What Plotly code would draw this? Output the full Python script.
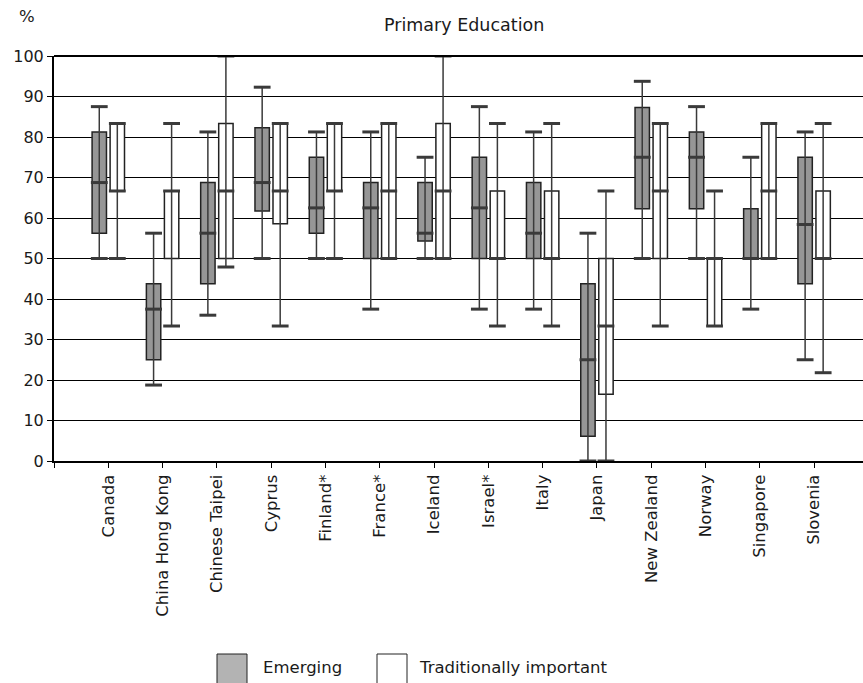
import numpy as np
import plotly.graph_objects as go

countries = ["Canada", "China Hong Kong", "Chinese Taipei", "Cyprus", "Finland*", "France*",
             "Iceland", "Israel*", "Italy", "Japan", "New Zealand", "Norway", "Singapore", "Slovenia"]

em_min = [50, 18.75, 36, 50, 50, 37.5, 50, 37.5, 37.5, 0, 50, 50, 37.5, 25]
em_q1 = [56.25, 25, 43.75, 61.7, 56.25, 50, 54.3, 50, 50, 6.1, 62.3, 62.3, 50, 43.75]
em_med = [68.75, 37.5, 56.25, 68.75, 62.5, 62.5, 56.25, 62.5, 56.25, 25, 75, 75, 50, 58.4]
em_q3 = [81.25, 43.75, 68.75, 82.3, 75, 68.75, 68.75, 75, 68.75, 43.75, 87.3, 81.25, 62.3, 75]
em_max = [87.5, 56.25, 81.25, 92.3, 81.25, 81.25, 75, 87.5, 81.25, 56.25, 93.75, 87.5, 75, 81.25]

tr_min = [50, 33.33, 47.9, 33.33, 50, 50, 50, 33.33, 33.33, 0, 33.33, 33.33, 50, 21.8]
tr_q1 = [66.67, 50, 50, 58.6, 66.67, 50, 50, 50, 50, 16.5, 50, 33.33, 50, 50]
tr_med = [66.67, 66.67, 66.67, 66.67, 66.67, 66.67, 66.67, 50, 50, 33.33, 66.67, 50, 66.67, 50]
tr_q3 = [83.33, 66.67, 83.33, 83.33, 83.33, 83.33, 83.33, 66.67, 66.67, 50, 83.33, 50, 83.33, 66.67]
tr_max = [83.33, 83.33, 100, 83.33, 83.33, 83.33, 100, 83.33, 83.33, 66.67, 83.33, 66.67, 83.33, 83.33]

y_ticks = [0, 10, 20, 30, 40, 50, 60, 70, 80, 90, 100]

FONT = "DejaVu Sans"
TXT = "#1a1a1a"
MARK = "#3a3a3a"
idx = np.arange(len(countries))
off = 0.166
bw = 0.265

fig = go.Figure()


def add_series(xpos, mn, q1, med, q3, mx, fill):
    mn, q1, med, q3, mx = map(np.array, (mn, q1, med, q3, mx))
    # box (Q1..Q3)
    fig.add_trace(go.Bar(x=xpos, y=q3 - q1, base=q1, width=bw,
                         marker=dict(color=fill, line=dict(color="#222222", width=1.5)),
                         showlegend=False, hoverinfo="skip"))
    # whisker line through the box, min..max
    fig.add_trace(go.Scatter(x=xpos, y=med, mode="markers",
                             marker=dict(symbol="line-ew", size=12,
                                         line=dict(color=MARK, width=3)),
                             error_y=dict(type="data", symmetric=False,
                                          array=mx - med, arrayminus=med - mn,
                                          color=MARK, thickness=1.5, width=0),
                             showlegend=False, hoverinfo="skip"))
    # caps at min and max
    fig.add_trace(go.Scatter(x=np.concatenate([xpos, xpos]), y=np.concatenate([mn, mx]),
                             mode="markers",
                             marker=dict(symbol="line-ew", size=12,
                                         line=dict(color=MARK, width=3)),
                             showlegend=False, hoverinfo="skip"))


add_series(idx - off, em_min, em_q1, em_med, em_q3, em_max, "#969696")
add_series(idx + off, tr_min, tr_q1, tr_med, tr_q3, tr_max, "#ffffff")

# legend drawn manually (large swatches)
fig.add_shape(type="rect", xref="paper", yref="paper",
              x0=(217 - 54) / 809, x1=(247 - 54) / 809,
              y0=-(654 - 461) / 405, y1=-(690 - 461) / 405,
              fillcolor="#b3b3b3", line=dict(color="#222222", width=1))
fig.add_shape(type="rect", xref="paper", yref="paper",
              x0=(377 - 54) / 809, x1=(407 - 54) / 809,
              y0=-(654 - 461) / 405, y1=-(690 - 461) / 405,
              fillcolor="#ffffff", line=dict(color="#222222", width=1))
fig.add_annotation(text="Emerging", xref="paper", yref="paper",
                   x=(261 - 54) / 809, y=-(667 - 461) / 405, xanchor="left", yanchor="middle",
                   showarrow=False, font=dict(family=FONT, size=16.5, color=TXT))
fig.add_annotation(text="Traditionally important", xref="paper", yref="paper",
                   x=(417 - 54) / 809, y=-(667 - 461) / 405, xanchor="left", yanchor="middle",
                   showarrow=False, font=dict(family=FONT, size=16.5, color=TXT))

fig.add_annotation(text="%", xref="paper", yref="paper", x=(27 - 54) / 809, y=1 + (56 - 17) / 405,
                   xanchor="center", yanchor="middle", showarrow=False,
                   font=dict(family=FONT, size=16.5, color=TXT))
fig.add_annotation(text="Primary Education", xref="paper", yref="paper",
                   x=(464 - 54) / 809, y=1 + (56 - 25) / 405,
                   xanchor="center", yanchor="middle", showarrow=False,
                   font=dict(family=FONT, size=17.5, color=TXT))

fig.update_layout(
    width=863, height=683,
    margin=dict(l=54, r=0, t=56, b=222),
    plot_bgcolor="white", paper_bgcolor="white",
    barmode="overlay",
    font=dict(family=FONT, size=16, color=TXT),
    showlegend=False,
)
fig.update_xaxes(range=[-1, 13.9], tickmode="array",
                 tickvals=list(range(-1, len(countries))), ticktext=[""] + countries,
                 tickangle=-90, ticks="outside", ticklen=5, tickcolor="black",
                 showline=True, linecolor="black", linewidth=2, showgrid=False,
                 zeroline=False, tickfont=dict(family=FONT, size=16.5, color=TXT))
fig.update_yaxes(range=[0, 100], tickvals=y_ticks, ticks="outside", ticklen=5,
                 tickcolor="black", showline=True, linecolor="black", linewidth=2,
                 showgrid=True, gridcolor="black", gridwidth=1, zeroline=False,
                 mirror=False, tickfont=dict(family=FONT, size=16, color=TXT))
fig.add_shape(type="line", xref="paper", yref="paper", x0=0, x1=1, y0=1, y1=1,
              line=dict(color="black", width=2))

fig.write_html("out.html")
